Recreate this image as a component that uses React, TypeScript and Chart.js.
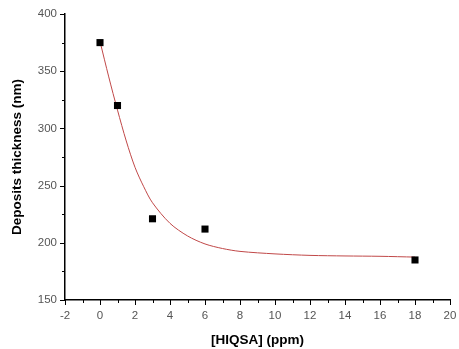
import React, { useEffect, useRef } from "react";
import { Chart, registerables } from "chart.js";

Chart.register(...registerables);

const concentrations = [0, 1, 3, 6, 18];
const thickness = [375, 320, 221, 212, 185];

const fitX = [0, 0.5, 1, 1.5, 2, 2.5, 3, 4, 5, 6, 7, 8, 10, 12, 14, 16, 18];
const fitY = [376, 345, 316, 289, 266, 249, 235, 217, 206, 199, 195, 192.5, 190.3, 189, 188.5, 188.2, 187.5];

const xMin = -2, xMax = 20, xMajor = 2, xMinor = 1;
const yMin = 150, yMax = 400, yMajor = 50, yMinor = 25;

const minorTicks = {
  id: "minorTicks",
  afterDraw(chart: any) {
    const ctx = chart.ctx;
    const xs = chart.scales.x;
    const ys = chart.scales.y;
    ctx.save();
    ctx.strokeStyle = "#000";
    ctx.lineWidth = 1;
    ctx.beginPath();
    for (let v = xMin; v <= xMax + 1e-9; v += xMinor) {
      const px = Math.round(xs.getPixelForValue(v)) + 0.5;
      const len = Math.abs(v % xMajor) < 1e-9 ? 5 : 3;
      ctx.moveTo(px, ys.bottom);
      ctx.lineTo(px, ys.bottom + len);
    }
    for (let v = yMin; v <= yMax + 1e-9; v += yMinor) {
      const py = Math.round(ys.getPixelForValue(v)) + 0.5;
      const len = Math.abs(v % yMajor) < 1e-9 ? 5 : 3;
      ctx.moveTo(xs.left, py);
      ctx.lineTo(xs.left - len, py);
    }
    ctx.stroke();
    ctx.restore();
  },
};

export default function App() {
  const ref = useRef<HTMLCanvasElement | null>(null);
  useEffect(() => {
    document.body.style.margin = "0";
    const chart = new Chart(ref.current!, {
      type: "scatter",
      data: {
        datasets: [
          {
            label: "fit",
            data: fitX.map((x, i) => ({ x, y: fitY[i] })),
            showLine: true,
            borderColor: "#c04848",
            borderWidth: 1,
            pointRadius: 0,
            tension: 0.3,
            order: 2,
          } as any,
          {
            label: "data",
            data: concentrations.map((x, i) => ({ x, y: thickness[i] })),
            pointStyle: "rect",
            pointRadius: 5,
            pointBorderWidth: 0,
            backgroundColor: "#000",
            borderColor: "#000",
            order: 1,
          } as any,
        ],
      },
      options: {
        animation: false,
        responsive: false,
        maintainAspectRatio: false,
        layout: { padding: { top: 14, right: 9, left: 0, bottom: 0 } },
        plugins: { legend: { display: false }, tooltip: { enabled: false } },
        scales: {
          x: {
            type: "linear",
            min: xMin,
            max: xMax,
            ticks: {
              stepSize: xMajor,
              color: "#555",
              font: { family: "Liberation Sans", size: 11.5 },
              padding: 9,
              maxRotation: 0,
              autoSkip: false,
            },
            grid: { display: false, drawTicks: false, tickLength: 5 },
            border: { display: true, color: "#000", width: 1.5 },
            title: {
              display: true,
              text: "[HIQSA] (ppm)",
              color: "#000",
              font: { family: "Liberation Sans", size: 13.5, weight: "bold" },
              padding: { top: 4, bottom: 1 },
            },
            afterFit(scale: any) {
              scale.height = 49;
              scale.paddingLeft = 0;
              scale.paddingRight = 0;
            },
          },
          y: {
            type: "linear",
            min: yMin,
            max: yMax,
            ticks: {
              stepSize: yMajor,
              color: "#555",
              font: { family: "Liberation Sans", size: 11.5 },
              padding: 8,
            },
            grid: { display: false, drawTicks: false, tickLength: 5 },
            border: { display: true, color: "#000", width: 1.5 },
            title: {
              display: true,
              text: "Deposits thickness (nm)",
              color: "#000",
              font: { family: "Liberation Sans", size: 13.5, weight: "bold" },
              padding: { top: 9, bottom: 8 },
            },
            afterFit(scale: any) {
              scale.width = 65;
              scale.paddingTop = 0;
              scale.paddingBottom = 0;
            },
          },
        },
      },
      plugins: [minorTicks],
    });
    return () => chart.destroy();
  }, []);
  return (
    <div style={{ position: "fixed", left: 0, top: 0, width: 459, height: 349, background: "#fff" }}>
      <canvas ref={ref} width={459} height={349} style={{ width: 459, height: 349 }} />
    </div>
  );
}
